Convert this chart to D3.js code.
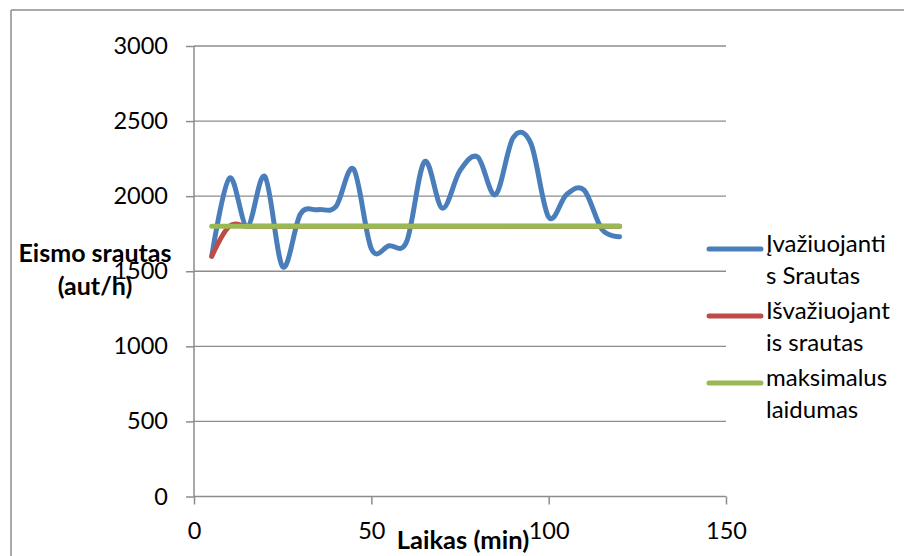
<!DOCTYPE html>
<html>
<head>
<meta charset="utf-8">
<script src="https://cdn.jsdelivr.net/npm/d3@7"></script>
<style>
  html, body { margin: 0; padding: 0; background: #fff; }
  svg { display: block; font-family: Lato, "Open Sans", sans-serif; }
</style>
</head>
<body>
<svg id="chart" width="904" height="556"></svg>
<script>
// Time axis (min) and series values (aut/h)
const minutes = [5, 10, 15, 20, 25, 30, 35, 40, 45, 50, 55, 60,
                 65, 70, 75, 80, 85, 90, 95, 100, 105, 110, 115, 120];
const inflow  = [1600, 2120, 1800, 2130, 1530, 1880, 1910, 1930, 2180, 1650, 1670, 1700,
                 2230, 1920, 2170, 2260, 2010, 2390, 2350, 1860, 2010, 2040, 1780, 1730];
const outflow = [1600, 1800, 1800, 1800, 1800, 1800, 1800, 1800, 1800, 1800, 1800, 1800,
                 1800, 1800, 1800, 1800, 1800, 1800, 1800, 1800, 1800, 1800, 1800, 1800];
const capacity = [1800, 1800, 1800, 1800, 1800, 1800, 1800, 1800, 1800, 1800, 1800, 1800,
                  1800, 1800, 1800, 1800, 1800, 1800, 1800, 1800, 1800, 1800, 1800, 1800];
const xTicks = [0, 50, 100, 150];
const yTicks = [0, 500, 1000, 1500, 2000, 2500, 3000];
const seriesNames = [["Įvažiuojanti", "s Srautas"], ["Išvažiuojant", "is srautas"], ["maksimalus", "laidumas"]];
const seriesColors = ["#4A7EBB", "#BE4B48", "#98B954"];

const svg = d3.select("#chart");
const gridColor = "#8c8c8c";
const font = "Lato, 'Open Sans', sans-serif";

// Outer frame (top and left edges)
svg.append("line").attr("x1", 11).attr("y1", 10).attr("x2", 904).attr("y2", 10)
  .attr("stroke", gridColor).attr("stroke-width", 1.5);
svg.append("line").attr("x1", 11).attr("y1", 10).attr("x2", 11).attr("y2", 556)
  .attr("stroke", gridColor).attr("stroke-width", 1.5);

const x = d3.scaleLinear().domain([0, 150]).range([194, 726]);
const y = d3.scaleLinear().domain([0, 3000]).range([496.5, 46]);

// Horizontal gridlines
svg.append("g").selectAll("line").data(yTicks.filter(v => v > 0)).join("line")
  .attr("x1", x(0)).attr("x2", x(150))
  .attr("y1", d => y(d)).attr("y2", d => y(d))
  .attr("stroke", gridColor).attr("stroke-width", 1.3);

// Axis titles
const yTitle = svg.append("text").attr("font-weight", "bold").attr("font-size", 25)
  .attr("text-anchor", "middle").attr("fill", "#000");
yTitle.append("tspan").attr("x", 95).attr("y", 262).text("Eismo srautas");
yTitle.append("tspan").attr("x", 95).attr("y", 295).text("(aut/h)");

svg.append("text").attr("font-weight", "bold").attr("font-size", 25.5)
  .attr("text-anchor", "middle").attr("x", 463).attr("y", 549).attr("fill", "#000")
  .text("Laikas (min)");

// Y axis
const yAxis = svg.append("g").attr("transform", `translate(${x(0)},0)`)
  .call(d3.axisLeft(y).tickValues(yTicks).tickSize(8).tickPadding(18).tickFormat(d3.format("d")));
yAxis.selectAll("line, path").attr("stroke", gridColor).attr("stroke-width", 1.5);
yAxis.select(".domain").attr("d", `M0,${y(3000)}V${y(0)}`);
yAxis.selectAll("text").attr("font-size", 23.5).attr("font-family", font).attr("fill", "#000");

// X axis
const xAxis = svg.append("g").attr("transform", `translate(0,${y(0)})`)
  .call(d3.axisBottom(x).tickValues(xTicks).tickSize(8).tickPadding(18).tickFormat(d3.format("d")));
xAxis.selectAll("line, path").attr("stroke", gridColor).attr("stroke-width", 1.5);
xAxis.select(".domain").attr("d", `M${x(0)},0H${x(150)}`);
xAxis.selectAll("text").attr("font-size", 23.5).attr("font-family", font).attr("fill", "#000");

// Smoothed series lines
const line = d3.line()
  .x((d, i) => x(minutes[i]))
  .y(d => y(d))
  .curve(d3.curveCardinal.tension(0));

[inflow, outflow, capacity].forEach((vals, i) => {
  svg.append("path").datum(vals)
    .attr("d", line)
    .attr("fill", "none")
    .attr("stroke", seriesColors[i])
    .attr("stroke-width", 5)
    .attr("stroke-linecap", "round")
    .attr("stroke-linejoin", "round");
});

// Legend
const legend = svg.append("g");
const legendRows = [249, 316, 383];
seriesNames.forEach((lines, i) => {
  const cy = legendRows[i];
  legend.append("line").attr("x1", 709).attr("x2", 761).attr("y1", cy).attr("y2", cy)
    .attr("stroke", seriesColors[i]).attr("stroke-width", 5).attr("stroke-linecap", "round");
  const t = legend.append("text").attr("font-size", 24).attr("fill", "#000");
  t.append("tspan").attr("x", 766).attr("y", cy + 3).text(lines[0]);
  t.append("tspan").attr("x", 766).attr("y", cy + 35).text(lines[1]);
});
</script>
</body>
</html>
